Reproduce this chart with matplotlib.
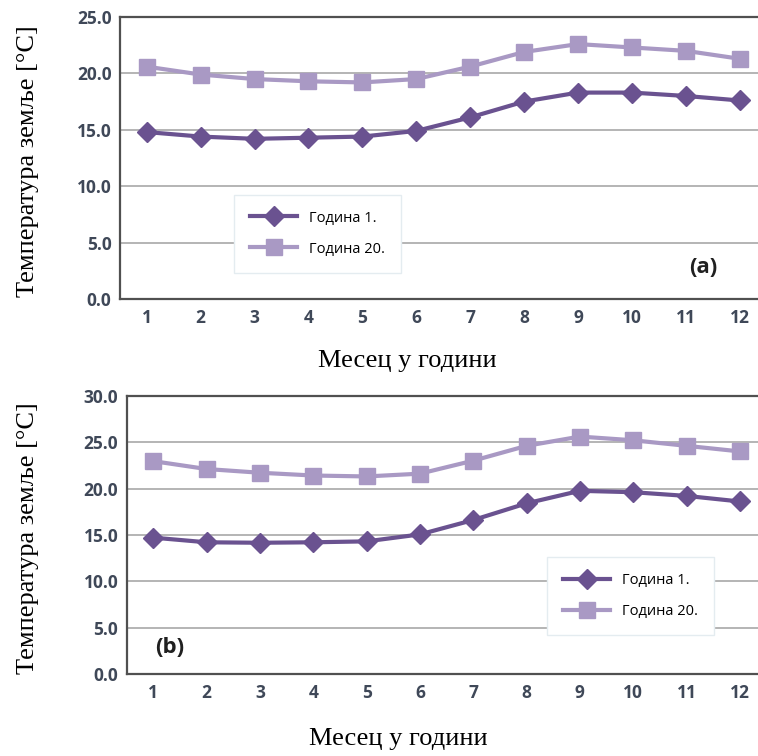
# coding: utf-8
import numpy as np
from matplotlib import pyplot as plt

# месеци
months = np.arange(1, 13)

# (a)
year1_a = [14.8, 14.4, 14.2, 14.3, 14.4, 14.9, 16.1, 17.5, 18.3, 18.3, 18.0, 17.6]
year20_a = [20.6, 19.9, 19.5, 19.3, 19.2, 19.5, 20.6, 21.9, 22.6, 22.3, 22.0, 21.3]

# (b)
year1_b = [14.7, 14.2, 14.15, 14.2, 14.3, 15.05, 16.6, 18.4, 19.75, 19.6, 19.2, 18.6]
year20_b = [22.95, 22.1, 21.7, 21.4, 21.3, 21.6, 23.0, 24.6, 25.6, 25.2, 24.6, 24.0]

yticks_a = [0, 5, 10, 15, 20, 25]
yticks_b = [0, 5, 10, 15, 20, 25, 30]

label1 = 'Година 1.'
label20 = 'Година 20.'
ylabel = 'Температура земље [°C]'
xlabel = 'Месец у години'

C1 = '#6a5290'
C20 = '#a999c4'
TICK_C = '#3f4858'

fig = plt.figure(figsize=(7.58, 7.56), dpi=100)


def draw(ax, y1, y20, yticks, tag, tag_pos, leg_anchor, ylab_pos, xlab_pos):
    ax.grid(axis='y', color='#a8a8a8', linewidth=1.2, zorder=0)
    ax.plot(months, y1, color=C1, linewidth=3, marker='D', markersize=10,
            label=label1, zorder=3)
    ax.plot(months, y20, color=C20, linewidth=3, marker='s', markersize=12,
            label=label20, zorder=3)
    ax.set_xlim(0.5, 12.34)
    ax.set_ylim(yticks[0], yticks[-1])
    ax.set_xticks(months)
    ax.set_yticks(yticks)
    ax.set_yticklabels([f'{v:.1f}' for v in yticks])
    for lbl in ax.get_xticklabels() + ax.get_yticklabels():
        lbl.set_fontfamily('Open Sans')
        lbl.set_fontweight('bold')
        lbl.set_fontsize(12.5)
        lbl.set_color(TICK_C)
    ax.tick_params(length=0, pad=7)
    ax.tick_params(axis='y', pad=6)
    for s in ['top', 'bottom', 'left']:
        ax.spines[s].set_color('#505050')
        ax.spines[s].set_linewidth(1.6)
    ax.spines['right'].set_visible(False)
    ax.set_ylabel(ylabel, fontfamily='Liberation Serif', fontsize=19)
    ax.yaxis.set_label_coords(ylab_pos[0], ylab_pos[1])
    ax.set_xlabel(xlabel, fontfamily='Liberation Serif', fontsize=19)
    ax.xaxis.set_label_coords(xlab_pos[0], xlab_pos[1])
    ax.text(tag_pos[0], tag_pos[1], tag, transform=ax.transAxes,
            fontfamily='Open Sans', fontweight='bold', fontsize=16,
            color='#202020', ha='center', va='center')
    leg = ax.legend(loc='center', bbox_to_anchor=leg_anchor, frameon=True,
                    prop={'family': 'Open Sans', 'size': 10.5},
                    handlelength=3.2, labelspacing=1.1, borderpad=1.1,
                    fancybox=False, edgecolor='#e4ecf0', framealpha=1)
    leg.get_frame().set_linewidth(1)


ax1 = fig.add_axes([0.158, 0.6045, 0.842, 0.373])
draw(ax1, year1_a, year20_a, yticks_a, '(a)', (0.914, 0.11), (0.31, 0.232),
     (-0.127, 0.49), (0.45, -0.18))

ax2 = fig.add_axes([0.167, 0.1085, 0.833, 0.368])
draw(ax2, year1_b, year20_b, yticks_b, '(b)', (0.069, 0.094), (0.798, 0.28),
     (-0.139, 0.49), (0.43, -0.194))

fig.savefig('out.png', dpi=100)
